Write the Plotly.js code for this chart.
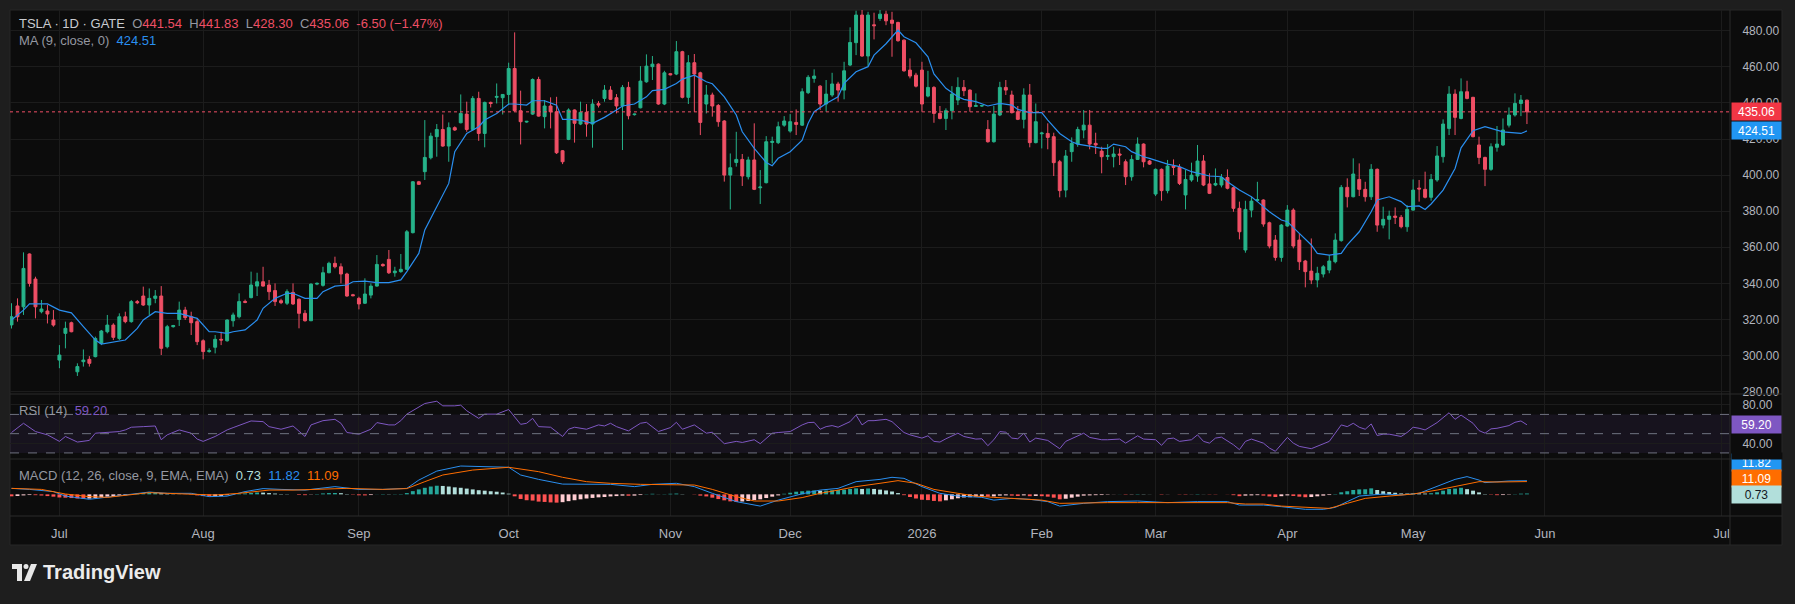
<!DOCTYPE html>
<html><head><meta charset="utf-8">
<script src="https://cdn.plot.ly/plotly-3.0.1.min.js"></script>
<style>html,body{margin:0;padding:0;background:#1e1e1e;}#chart{width:1795px;height:604px;}</style>
</head><body><div id="chart"></div>
<script>
// ---------- DATA ----------
const openP = [317.0,327.5,327.0,356.3,342.4,324.3,324.7,319.7,297.5,312.3,318.2,291.0,296.6,297.9,299.4,306.8,313.2,316.9,309.5,321.5,
318.8,329.9,333.0,328.0,331.7,333.0,304.9,316.0,320.0,325.2,321.5,318.8,308.2,302.2,304.6,309.0,308.2,319.3,321.5,330.0,
332.1,338.5,340.9,339.1,336.0,330.4,329.0,335.0,331.2,323.4,319.3,339.6,338.9,345.9,351.1,349.2,345.2,333.7,331.7,329.0,
333.5,338.5,350.5,353.3,345.9,346.5,347.8,368.1,396.3,401.9,409.6,421.3,425.3,416.1,426.3,429.0,433.8,425.3,442.5,423.1,
440.3,443.1,442.9,444.7,459.1,435.7,429.4,433.8,453.0,432.4,438.3,435.1,413.5,419.8,436.1,428.3,434.8,428.3,439.6,442.5,
447.1,442.9,438.3,448.6,433.5,437.3,451.7,460.1,461.5,439.4,456.2,456.0,468.4,443.1,462.3,456.7,439.4,444.4,438.6,430.0,
400.0,407.0,408.7,399.1,408.4,393.0,395.8,418.1,418.0,427.7,424.4,429.2,427.7,445.7,453.6,449.3,439.4,444.4,450.5,447.1,
461.0,473.4,488.7,466.0,483.3,486.8,489.2,485.9,484.6,474.8,458.2,455.4,458.2,443.8,448.6,434.2,431.4,435.7,441.6,448.6,
447.1,438.1,438.3,425.3,418.5,433.3,448.6,444.4,435.1,430.9,444.4,418.0,422.9,423.1,421.3,407.4,391.7,413.0,417.2,425.0,
427.7,417.6,413.3,410.4,410.2,411.7,407.4,399.1,408.7,417.2,407.8,389.5,403.2,391.4,405.0,404.3,389.0,397.3,399.5,407.8,
395.1,394.5,394.5,398.7,393.0,381.6,358.5,380.6,386.0,386.2,373.6,364.0,354.4,371.8,380.6,364.0,352.4,346.8,341.9,345.2,
347.4,352.0,363.7,393.2,388.0,397.6,392.1,388.0,403.2,372.3,375.5,377.3,376.6,371.4,380.6,392.8,392.1,387.7,397.3,410.2,
425.9,444.9,431.4,446.2,443.1,416.7,409.8,403.2,415.4,416.7,427.7,433.3,439.7,441.54];
const highP = [329.0,331.7,357.2,356.6,343.7,330.8,328.0,325.2,305.8,318.8,318.8,295.7,303.4,299.7,310.5,314.2,322.5,317.9,323.4,324.3,
330.8,330.8,338.2,337.2,336.3,338.5,317.0,317.0,329.9,327.0,324.3,320.6,309.0,304.0,311.4,313.2,320.1,323.8,334.5,331.0,
346.5,345.9,349.2,341.9,340.0,331.5,336.7,340.0,331.7,325.2,340.0,340.5,349.2,352.0,354.8,351.1,345.9,334.2,332.6,342.8,
340.0,355.7,351.1,358.5,349.2,356.3,369.6,396.7,396.8,430.5,423.5,428.3,433.6,429.2,427.0,444.7,440.7,443.8,446.2,440.7,
440.7,450.8,444.9,462.3,479.1,446.8,430.0,453.6,454.5,441.6,443.1,443.4,413.9,437.0,436.4,440.7,439.4,442.0,441.0,449.9,
449.3,444.9,449.9,451.7,434.0,460.4,466.9,466.0,461.9,457.8,456.5,474.3,468.9,466.5,467.1,457.3,449.9,445.7,439.4,430.5,
412.0,424.0,411.7,410.2,428.7,402.8,421.6,421.3,429.6,432.7,433.8,436.4,448.1,455.4,458.6,449.9,452.7,456.7,451.7,462.8,
481.9,491.1,491.5,490.5,490.0,491.5,491.1,490.5,485.0,475.2,464.7,456.7,462.8,457.8,449.3,438.3,437.0,449.3,454.2,452.7,
447.5,445.3,438.8,430.5,438.3,451.7,452.7,446.8,438.3,448.1,450.5,439.7,424.0,428.7,423.5,408.4,413.9,420.9,426.8,436.1,
436.1,423.5,415.7,417.2,415.7,414.8,408.7,411.1,420.9,417.6,408.4,403.7,403.7,408.4,408.7,406.1,402.8,406.9,416.7,411.1,
401.0,403.7,400.6,403.2,393.6,385.3,385.8,388.0,396.3,386.6,374.2,366.8,372.9,383.4,381.6,367.7,353.0,364.9,349.2,350.2,
355.7,367.7,394.5,398.2,409.3,406.5,396.3,406.1,403.7,382.5,380.3,382.1,377.9,383.4,397.6,397.3,401.9,400.6,416.1,430.9,
449.3,447.5,453.6,452.3,443.4,421.3,410.2,417.6,427.2,431.4,437.5,445.3,444.4,441.83];
const lowP = [315.0,318.8,322.5,338.2,320.6,323.4,317.8,316.0,293.0,304.0,312.9,288.7,293.9,293.9,299.0,305.8,312.3,308.6,308.6,317.9,
318.2,328.5,327.5,322.5,329.0,300.3,304.0,315.5,316.4,319.7,311.4,305.8,297.9,301.6,301.2,305.8,307.7,316.0,320.6,329.0,
331.7,333.0,338.2,330.8,327.5,328.5,328.0,328.0,315.1,318.8,319.1,339.0,338.2,345.6,348.3,340.0,332.6,332.8,325.6,328.6,
331.7,338.2,349.2,345.2,343.7,345.9,347.4,367.7,394.5,397.3,408.7,410.2,415.7,407.4,424.5,428.7,424.0,424.6,419.0,415.4,
437.5,439.7,433.6,438.8,435.1,417.0,429.0,433.3,432.4,425.9,425.9,411.7,406.1,419.4,418.0,427.7,421.3,415.2,437.5,440.7,
441.6,434.2,413.9,430.9,433.0,437.0,451.2,452.7,439.0,438.8,455.3,455.4,442.5,439.4,435.1,422.2,434.2,432.4,426.8,396.4,
381.0,404.7,394.0,397.6,391.7,384.0,395.4,406.5,417.2,426.8,423.5,422.2,427.2,444.9,451.2,436.1,435.1,443.4,440.7,442.0,
460.4,466.5,465.6,460.4,475.2,485.5,483.1,465.6,473.9,457.3,453.6,448.6,435.1,443.1,429.0,430.9,425.0,430.9,438.8,443.8,
435.1,437.9,437.8,418.0,418.0,432.7,444.4,434.2,430.5,425.9,415.4,417.6,414.8,414.3,399.5,387.7,387.7,407.4,415.7,420.4,
414.3,411.7,401.0,408.4,404.3,405.6,394.5,396.9,408.4,404.3,405.6,388.4,385.8,389.9,400.0,394.5,381.0,396.3,396.3,393.9,
389.5,393.9,393.2,392.1,379.7,364.4,357.0,376.6,385.3,371.4,359.4,352.6,352.0,371.4,359.4,347.4,337.8,339.6,337.8,343.3,
345.6,351.1,363.1,382.1,387.7,388.4,385.3,386.2,368.6,370.5,364.4,372.9,370.5,368.6,380.3,385.3,387.1,385.8,396.3,406.9,
422.2,422.2,430.9,442.0,420.9,406.1,393.9,402.4,413.0,416.1,426.4,432.4,432.7,428.30];
const closeP = [321.5,321.5,348.3,340.0,327.0,325.8,323.0,316.9,300.3,315.1,313.2,293.9,297.5,295.7,309.5,313.6,316.9,310.1,321.5,318.8,
329.9,329.3,328.0,331.7,333.0,304.0,316.0,316.6,325.2,321.0,318.2,307.7,302.2,302.7,309.0,308.6,319.7,322.5,329.9,329.5,
339.1,340.9,338.5,335.4,329.9,329.3,335.4,328.6,323.4,319.3,339.6,340.0,345.9,351.1,349.2,345.2,333.0,333.2,328.6,334.1,
338.5,350.5,349.8,345.9,346.8,347.8,368.6,396.3,394.9,409.8,421.6,425.3,416.1,426.3,425.0,434.2,425.3,442.5,423.1,440.3,
439.7,443.6,444.7,459.1,435.7,429.6,429.8,453.0,432.7,438.3,435.1,412.4,407.4,436.1,428.7,434.8,428.3,439.4,438.8,447.1,
442.0,438.3,448.6,432.9,433.8,452.1,460.4,461.5,439.4,456.7,455.6,468.4,443.1,462.3,456.0,429.2,444.4,438.3,429.6,400.0,
404.1,408.7,399.5,408.4,392.1,393.4,418.5,418.7,426.8,430.0,429.6,428.1,446.2,454.2,454.9,439.4,444.9,450.5,447.1,457.8,
473.5,488.7,466.0,488.7,482.8,489.2,485.5,484.1,474.5,457.8,454.9,449.3,439.4,448.6,434.2,431.4,435.7,444.9,448.6,446.8,
437.9,438.5,438.5,418.5,433.8,448.6,447.1,434.6,430.9,444.4,418.0,429.6,423.3,420.9,406.9,391.4,410.6,417.6,425.3,427.7,
417.2,416.7,410.2,410.8,411.7,411.1,399.1,408.7,417.2,407.4,406.1,403.2,391.4,405.0,404.3,395.4,397.6,400.0,407.8,394.5,
389.9,395.4,398.7,392.7,381.6,368.6,381.0,385.6,386.4,372.9,360.7,354.4,372.3,380.6,360.7,352.0,346.5,341.9,345.6,349.2,
352.4,364.0,393.2,388.0,400.6,392.1,388.0,403.2,372.3,375.5,377.3,376.6,371.4,381.0,391.7,392.3,387.7,397.6,410.6,428.3,
444.9,432.0,446.2,442.5,421.3,409.8,403.2,415.7,417.2,425.0,433.3,439.7,441.6,435.06];

// MA(9) line, sampled at bar indices
const maIdx = [0,2,3,6,8,10,12,14,15,17,19,21,22,24,26,28,29,31,33,34,36,37,39,41,42,44,46,47,49,51,52,54,56,57,59,61,63,65,66,68,69,71,73,74,76,78,79,81,83,84,86,87,89,91,92,93,95,97,99,101,102,104,106,107,109,111,112,114,116,117,119,121,122,124,126,127,128,130,132,133,134,136,138,139,141,143,144,146,148,149,151,153,154,156,158,159,161,163,165,167,168,170,172,173,175,177,178,180,182,183,184,186,187,189,190,193,195,197,198,200,202,203,205,207,208,210,212,213,215,217,218,220,222,223,225,227,228,230,232,233,235,236,237,239,241,242,244,246,247,249,251,252,253];
const maVal = [319.7,325.2,328.6,328.6,325.2,323.7,316,308.6,306.4,307.7,308.6,315.1,319.7,324.3,323.4,323.4,322.5,320.6,313.2,313.2,312.3,313.2,314.2,319.7,326.2,331.7,334.5,334.5,331.7,331.7,335.4,338.5,339.1,340.9,341.3,340.4,340.4,341.9,346.5,356.6,369.6,382.5,395.4,413,423.1,426.8,430.5,434.2,439.4,439.4,438.8,441.2,441.2,438.8,430.9,430.9,430.5,428.7,432,436.1,438.3,439.4,443.4,446.8,447.5,450.8,453.2,455.4,451.7,450.6,443.4,433.3,424,414.8,407,405.2,409.3,413,419.4,428.7,435.1,439.7,443.4,450.8,457.3,460.1,466.5,472.8,480.4,476.7,473.3,465.6,456.1,448.1,443.4,442,440.7,438.3,439.7,438.8,436.4,434.6,434.6,430.5,423.1,418.5,417.2,416.1,414.8,414.8,417.2,415.7,413,410.2,409.3,406.1,404.7,401.9,401,399.5,399.1,396.3,391.7,388,385.3,379.7,375.1,374.2,367.7,361.3,356.6,355.7,356.6,361.3,368.6,379.7,386.2,388,385.3,382.5,382.9,381,384,391.7,403.7,415.1,424.6,426.8,425.9,424,423.4,423.1,424.51];

// RSI(14)
const rsiIdx = [0,2,4,6,8,9,11,13,14,16,18,19,20,22,24,25,26,28,30,31,32,34,36,37,40,42,43,45,47,49,50,52,54,55,56,58,60,61,63,64,65,66,68,69,71,72,74,75,76,78,79,81,83,85,86,87,88,90,92,93,94,96,98,99,100,101,103,105,106,108,110,111,112,114,116,117,119,121,122,124,125,127,128,130,132,133,134,135,136,137,138,140,141,142,143,144,146,147,149,150,152,153,154,155,156,158,159,161,162,163,164,165,166,167,168,169,170,171,173,175,176,178,179,180,182,183,185,186,188,189,191,192,193,194,195,197,198,199,200,201,202,204,205,206,207,209,210,211,213,214,215,217,218,220,222,223,224,225,226,227,228,229,230,232,233,234,235,236,238,240,241,242,244,245,246,247,248,250,251,252,253];
const rsiVal = [51.2,60.8,52.2,48.8,42,47.1,41.3,43,50.5,51.2,52.2,53.9,56.7,57.3,58,43.7,48.8,53.9,50.5,44.4,42,47.1,53.9,56.3,63.2,62.5,57.3,54.6,58,47.1,59.1,63.5,64.9,60.8,51.2,49.5,54.6,61.5,59.1,59.1,63.5,70.3,77.9,81.3,83.7,78.9,78.9,79.6,73.8,65.9,70.3,70.3,75.1,59.7,60.8,65.9,57.3,56.7,47.1,54.6,56.7,54.6,59.1,58,60.8,57.3,52.9,60.8,61.8,52.2,56.3,61.8,54.6,59.1,50.5,51.5,39.6,42,40.9,43.7,39.6,50.5,51.2,52.2,59.1,61.5,61.8,54.6,57.3,58.4,56.7,62.5,69.3,59.1,63.5,63.5,64.9,62.5,51.2,48.8,45.4,47.8,42,41.3,44.7,50.5,47.1,44.4,44.7,37.5,43.7,52.2,51.5,45.4,44.7,50.5,41.3,45.4,43,34.4,42,47.8,50.5,46.1,43.7,43.7,44.4,40.2,47.8,44.4,43.7,37.9,44.7,45.4,42,43.7,48.8,42,40.2,45.4,46.4,38.5,33.4,42,44.4,40.2,35.1,31.7,46.1,40.2,36.8,34.4,36.8,42,59.1,57.3,60.8,56.7,54.6,60.1,48.1,49.5,49.5,47.1,51.2,56.7,55.6,53.9,61.5,71.7,64.9,69.3,60.8,53.2,50.5,55,55.6,58.4,61.8,63.2,59.2];

// MACD (12, 26, 9)
const macdIdx = [0,3,7,9,13,16,20,23,26,30,33,36,39,42,45,49,54,58,62,66,68,71,75,79,83,85,88,92,96,100,104,107,111,114,117,121,125,128,132,135,138,141,145,147,149,152,155,158,162,164,167,170,173,175,179,183,188,193,198,203,205,209,212,216,219,221,223,225,229,232,235,238,241,243,245,246,250,253];
const macdVal = [5.2,4.3,2.4,-1.5,-4.3,-2.6,0.3,2.0,0.9,0.9,-2.0,-1.5,2.4,5.0,4.3,3.7,6.7,4.3,4.3,5.2,12.4,20.2,24.6,24.1,23.5,16.8,13.0,8.9,8.7,8.7,6.7,8.7,9.6,6.7,0.9,-6.3,-10.2,-5.0,0.5,3.7,5.2,11.0,13.0,14.8,13.9,6.7,0.9,-1.5,-2.6,-5.0,-3.5,-4.3,-6.3,-10.2,-7.8,-6.3,-5.8,-7.2,-6.3,-6.3,-9.3,-9.3,-10.7,-13.0,-13.0,-11.3,-6.3,-1.5,0.3,-0.6,0.9,6.7,13.0,15.4,12.4,10.2,11.6,11.82];
const sigIdx = [0,5,9,13,16,20,23,26,30,34,38,43,47,51,56,62,66,69,72,77,81,83,88,92,96,100,105,109,114,117,121,124,128,132,135,138,141,145,148,151,154,158,161,164,168,172,175,179,183,188,193,198,203,206,209,212,216,220,223,226,230,234,238,242,245,248,253];
const sigVal = [5.2,4.3,0.3,-2.0,-2.6,-0.6,1.5,0.9,0.3,-0.6,0.9,3.7,3.7,4.3,5.2,4.3,5.0,11.0,16.8,21.1,22.6,23.5,19.7,14.8,11.0,9.6,8.7,8.7,8.1,4.3,-2.0,-5.8,-5.8,-2.8,0.9,3.7,6.7,9.6,11.9,9.6,4.3,0.9,-1.5,-2.6,-3.5,-5.0,-7.8,-7.2,-7.2,-7.2,-7.2,-6.7,-7.2,-8.4,-8.4,-10.2,-11.3,-12.2,-7.8,-3.5,-1.5,0.3,3.7,8.1,11.0,10.7,11.09];
const histVal = [-1.7,-1.4,-0.9,-0.6,-0.7,-1.0,-1.5,-2.0,-2.7,-2.9,
-3.2,-3.6,-3.8,-3.7,-3.2,-2.6,-2.0,-1.7,-1.1,-0.7,
0.2,0.7,1.1,1.5,1.7,1.0,0.5,0.2,0.1,-0.1,
-0.3,-0.9,-1.5,-1.8,-1.7,-1.4,-0.7,-0.2,0.5,0.8,
1.2,1.6,1.5,1.1,0.7,0.3,0.2,0.0,-0.5,-0.7,
-0.2,0.3,0.8,1.1,1.2,1.0,0.3,-0.3,-0.8,-0.9,
-0.6,0.1,0.3,0.2,0.2,0.3,1.1,2.8,4.3,5.7,
6.8,7.5,7.3,6.8,6.1,5.7,5.0,4.3,3.6,3.2,
2.7,2.3,1.6,0.6,-1.7,-4.0,-5.1,-5.4,-6.3,-6.6,
-7.0,-7.2,-6.8,-5.9,-5.1,-4.3,-3.6,-3.1,-2.6,-2.3,
-1.8,-1.5,-1.1,-1.2,-1.1,-0.6,0.2,0.5,0.1,0.2,
0.5,0.7,0.2,0.0,-0.2,-1.1,-1.8,-2.9,-4.1,-5.2,
-6.1,-6.6,-6.2,-5.7,-5.0,-4.3,-3.2,-2.0,-0.9,0.5,
1.4,2.3,2.7,3.2,3.4,3.2,3.3,3.6,3.8,4.1,
4.7,5.2,4.7,5.1,4.7,4.1,3.4,2.5,1.1,-0.7,
-2.3,-3.6,-4.7,-5.0,-5.7,-6.1,-5.2,-4.3,-3.4,-2.7,
-2.5,-2.0,-1.6,-2.0,-1.8,-1.1,-0.9,-1.1,-1.4,-0.9,
-1.6,-1.4,-1.6,-2.0,-2.9,-4.3,-3.8,-2.9,-2.0,-1.1,
-0.9,-0.7,-0.6,-0.3,-0.1,0.1,-0.3,-0.2,0.3,0.2,
0.1,0.0,-0.3,-0.1,0.0,-0.2,-0.3,-0.1,0.3,0.1,
-0.2,-0.2,0.0,-0.1,-0.7,-1.6,-1.1,-0.9,-0.7,-1.1,
-1.8,-2.3,-1.6,-0.9,-1.4,-2.0,-2.5,-2.3,-1.7,-1.1,
-0.6,0.3,1.8,2.7,3.8,4.3,4.4,5.2,3.8,2.7,
2.0,1.4,0.8,0.7,1.0,0.9,0.7,1.0,1.8,3.2,
4.7,5.0,5.7,4.5,3.2,1.7,0.3,-0.3,-0.7,-0.6,
-0.3,0.2,0.6,0.73];

// x-axis month labels (bar index where each month starts)
const monthLabels = ['Jul','Aug','Sep','Oct','Nov','Dec','2026','Feb','Mar','Apr','May','Jun','Jul'];
const monthPos = [8,32,58,83,110,130,152,172,191,213,234,256,285.5];

// header values
const hdr = {open:'441.54', high:'441.83', low:'428.30', close:'435.06', chg:'-6.50', pct:'(\u22121.47%)', ma:'424.51', rsi:'59.20', hist:'0.73', macd:'11.82', signal:'11.09'};
const lastClose = 435.06, lastMA = 424.51, lastRSI = 59.2;

// ---------- STYLE ----------
const W = 1795, H = 604;
const M = {l:10, r:65, t:10, b:88};
const PW = W - M.l - M.r, PH = H - M.t - M.b;
const px = X => (X - M.l) / PW;
const py = Y => (H - M.b - Y) / PH;
const FONT = 'Liberation Sans, Arial, sans-serif';
const UP = '#26b38a', DN = '#ef4f65';
const GRID = '#1c1c1c', SEP = '#2b2b2b', PANEL = '#0c0c0c', OUTER = '#1e1e1e';
const TXT = '#b2b5be';
const BLUE = '#2a8ff0', ORANGE = '#ff6d00', PURPLE = '#7e57c2';

const barIdx = closeP.map((_, i) => i);
const histColors = histVal.map((v, i) => {
  const prev = i > 0 ? histVal[i-1] : v;
  if (v >= 0) return v >= prev ? '#26a69a' : '#b2dfdb';
  return v <= prev ? '#ff5252' : '#ffcdd2';
});

const traces = [
  {type:'candlestick', x:barIdx, open:openP, high:highP, low:lowP, close:closeP,
   increasing:{line:{color:UP, width:1}, fillcolor:UP},
   decreasing:{line:{color:DN, width:1}, fillcolor:DN},
   whiskerwidth:0, xaxis:'x', yaxis:'y', hoverinfo:'skip'},
  {type:'scatter', mode:'lines', x:maIdx, y:maVal, line:{color:BLUE, width:1.2}, xaxis:'x', yaxis:'y', hoverinfo:'skip'},
  {type:'scatter', mode:'lines', x:rsiIdx, y:rsiVal, line:{color:PURPLE, width:1}, xaxis:'x', yaxis:'y2', hoverinfo:'skip'},
  {type:'bar', x:barIdx, y:histVal, marker:{color:histColors, line:{width:0}}, width:0.65, xaxis:'x', yaxis:'y3', hoverinfo:'skip'},
  {type:'scatter', mode:'lines', x:macdIdx, y:macdVal, line:{color:BLUE, width:1}, xaxis:'x', yaxis:'y3', hoverinfo:'skip'},
  {type:'scatter', mode:'lines', x:sigIdx, y:sigVal, line:{color:ORANGE, width:1}, xaxis:'x', yaxis:'y3', hoverinfo:'skip'}
];

const hline = (Y, col) => ({type:'line', xref:'paper', yref:'paper', x0:px(10), x1:px(1782), y0:py(Y), y1:py(Y), line:{color:col, width:1}});
const logoPath = pts => 'M ' + pts.map(p => px(p[0]) + ',' + py(p[1])).join(' L ') + ' Z';

const shapes = [
  {type:'rect', xref:'paper', yref:'paper', x0:px(10), x1:px(1782), y0:py(545), y1:py(10), fillcolor:PANEL, line:{color:'#262626', width:1}, layer:'below'},
  {type:'rect', xref:'paper', yref:'y2', x0:0, x1:1, y0:30, y1:70, fillcolor:'rgba(126,87,194,0.10)', line:{width:0}, layer:'below'},
  {type:'line', xref:'paper', yref:'y2', x0:0, x1:1, y0:70, y1:70, line:{color:'#6f7280', width:1, dash:'dash'}},
  {type:'line', xref:'paper', yref:'y2', x0:0, x1:1, y0:50, y1:50, line:{color:'#6f7280', width:1, dash:'dash'}},
  {type:'line', xref:'paper', yref:'y2', x0:0, x1:1, y0:30, y1:30, line:{color:'#6f7280', width:1, dash:'dash'}},
  {type:'line', xref:'paper', yref:'y', x0:0, x1:1, y0:lastClose, y1:lastClose, line:{color:DN, width:1, dash:'dot'}},
  hline(394, SEP), hline(459, SEP), hline(516, SEP),
  {type:'line', xref:'paper', yref:'paper', x0:px(1730), x1:px(1730), y0:py(545), y1:py(10), line:{color:SEP, width:1}},
  // TradingView logo mark
  {type:'path', xref:'paper', yref:'paper', path:logoPath([[12,564],[22,564],[22,581],[17,581],[17,569],[12,569]]), fillcolor:'#e8e8e8', line:{width:0}},
  {type:'circle', xref:'paper', yref:'paper', x0:px(23.5), x1:px(28.5), y0:py(569), y1:py(564), fillcolor:'#e8e8e8', line:{width:0}},
  {type:'path', xref:'paper', yref:'paper', path:logoPath([[31,564],[37,564],[30,581],[24,581]]), fillcolor:'#e8e8e8', line:{width:0}}
];

const sp = (c, t) => '<span style="color:' + c + '">' + t + '</span>';
const NB = '\u00a0';
const G = '#9598a1';
const legend1 = sp('#c9cbd1', 'TSLA \u00b7 1D \u00b7 GATE') + NB + NB +
  sp(G,'O') + sp(DN, hdr.open) + NB + NB + sp(G,'H') + sp(DN, hdr.high) + NB + NB +
  sp(G,'L') + sp(DN, hdr.low) + NB + NB + sp(G,'C') + sp(DN, hdr.close) + NB + NB +
  sp(DN, hdr.chg + ' ' + hdr.pct);
const legend2 = sp(G, 'MA (9, close, 0)') + NB + NB + sp(BLUE, hdr.ma);
const legend3 = sp(G, 'RSI (14)') + NB + NB + sp(PURPLE, hdr.rsi);
const legend4 = sp(G, 'MACD (12, 26, close, 9, EMA, EMA)') + NB + NB + sp('#b2dfdb', hdr.hist) + NB + NB + sp(BLUE, hdr.macd) + NB + NB + sp(ORANGE, hdr.signal);

const txtAnn = (X, Y, text, size) => ({xref:'paper', yref:'paper', x:px(X), y:py(Y), xanchor:'left', yanchor:'middle', text:text, showarrow:false, font:{family:FONT, size:size||13, color:TXT}});
const boxAnn = (yref, yv, text, bg, fg) => ({xref:'paper', yref:yref, x:px(1731), y:yv, xanchor:'left', yanchor:'middle', text:text, showarrow:false, bgcolor:bg, width:47, height:15, borderpad:1, align:'center', font:{family:FONT, size:12, color:fg||'#ffffff'}});

const annotations = [
  txtAnn(17, 24, legend1, 13),
  txtAnn(17, 41, legend2, 13),
  txtAnn(17, 410, legend3, 13),
  txtAnn(17, 475, legend4, 13),
  boxAnn('y', lastClose, hdr.close, '#f23645'),
  boxAnn('y', lastMA, hdr.ma, '#2196f3'),
  boxAnn('y2', lastRSI, hdr.rsi, PURPLE),
  boxAnn('paper', py(462), hdr.macd, '#2196f3'),
  boxAnn('paper', py(478), hdr.signal, ORANGE),
  boxAnn('paper', py(494.6), hdr.hist, '#b2dfdb', '#131722'),
  {xref:'paper', yref:'paper', x:px(1731), y:py(455.5), xanchor:'left', yanchor:'middle', text:' ', showarrow:false, bgcolor:PANEL, width:50, height:6, borderpad:0, font:{size:4}},
  {xref:'paper', yref:'paper', x:px(41), y:py(572), xanchor:'left', yanchor:'middle', text:'<b>TradingView</b>', showarrow:false, font:{family:FONT, size:20, color:'#ececec'}}
];

const layout = {
  width:W, height:H, margin:M, paper_bgcolor:OUTER, plot_bgcolor:PANEL,
  showlegend:false, hovermode:false, dragmode:false,
  font:{family:FONT, size:12, color:TXT},
  xaxis:{range:[-0.25, 286.9], anchor:'y3', rangeslider:{visible:false}, showgrid:true, gridcolor:GRID, gridwidth:1,
         tickmode:'array', tickvals:monthPos, ticktext:monthLabels, ticks:'outside', ticklen:5, tickcolor:'rgba(0,0,0,0)',
         tickfont:{family:FONT, size:13, color:TXT}, showline:false, zeroline:false, fixedrange:true},
  yaxis:{domain:[py(394), 1], range:[278.7, 491.5], side:'right', showgrid:true, gridcolor:GRID,
         tickmode:'array', tickvals:[280,300,320,340,360,380,400,420,440,460,480], tickformat:'.2f',
         ticks:'outside', ticklen:9, tickcolor:'rgba(0,0,0,0)', tickfont:{family:FONT, size:12, color:TXT}, zeroline:false, showline:false},
  yaxis2:{domain:[py(459), py(394)], range:[23.7, 91.2], side:'right', showgrid:true, gridcolor:GRID,
         tickmode:'array', tickvals:[40,80], tickformat:'.2f',
         ticks:'outside', ticklen:9, tickcolor:'rgba(0,0,0,0)', tickfont:{family:FONT, size:12, color:TXT}, zeroline:false, showline:false},
  yaxis3:{domain:[0, py(459)], range:[-18.8, 30.7], side:'right', showgrid:false, showticklabels:false, zeroline:false, showline:false},
  shapes:shapes, annotations:annotations
};

Plotly.newPlot('chart', traces, layout, {staticPlot:true, displayModeBar:false});
</script></body></html>
